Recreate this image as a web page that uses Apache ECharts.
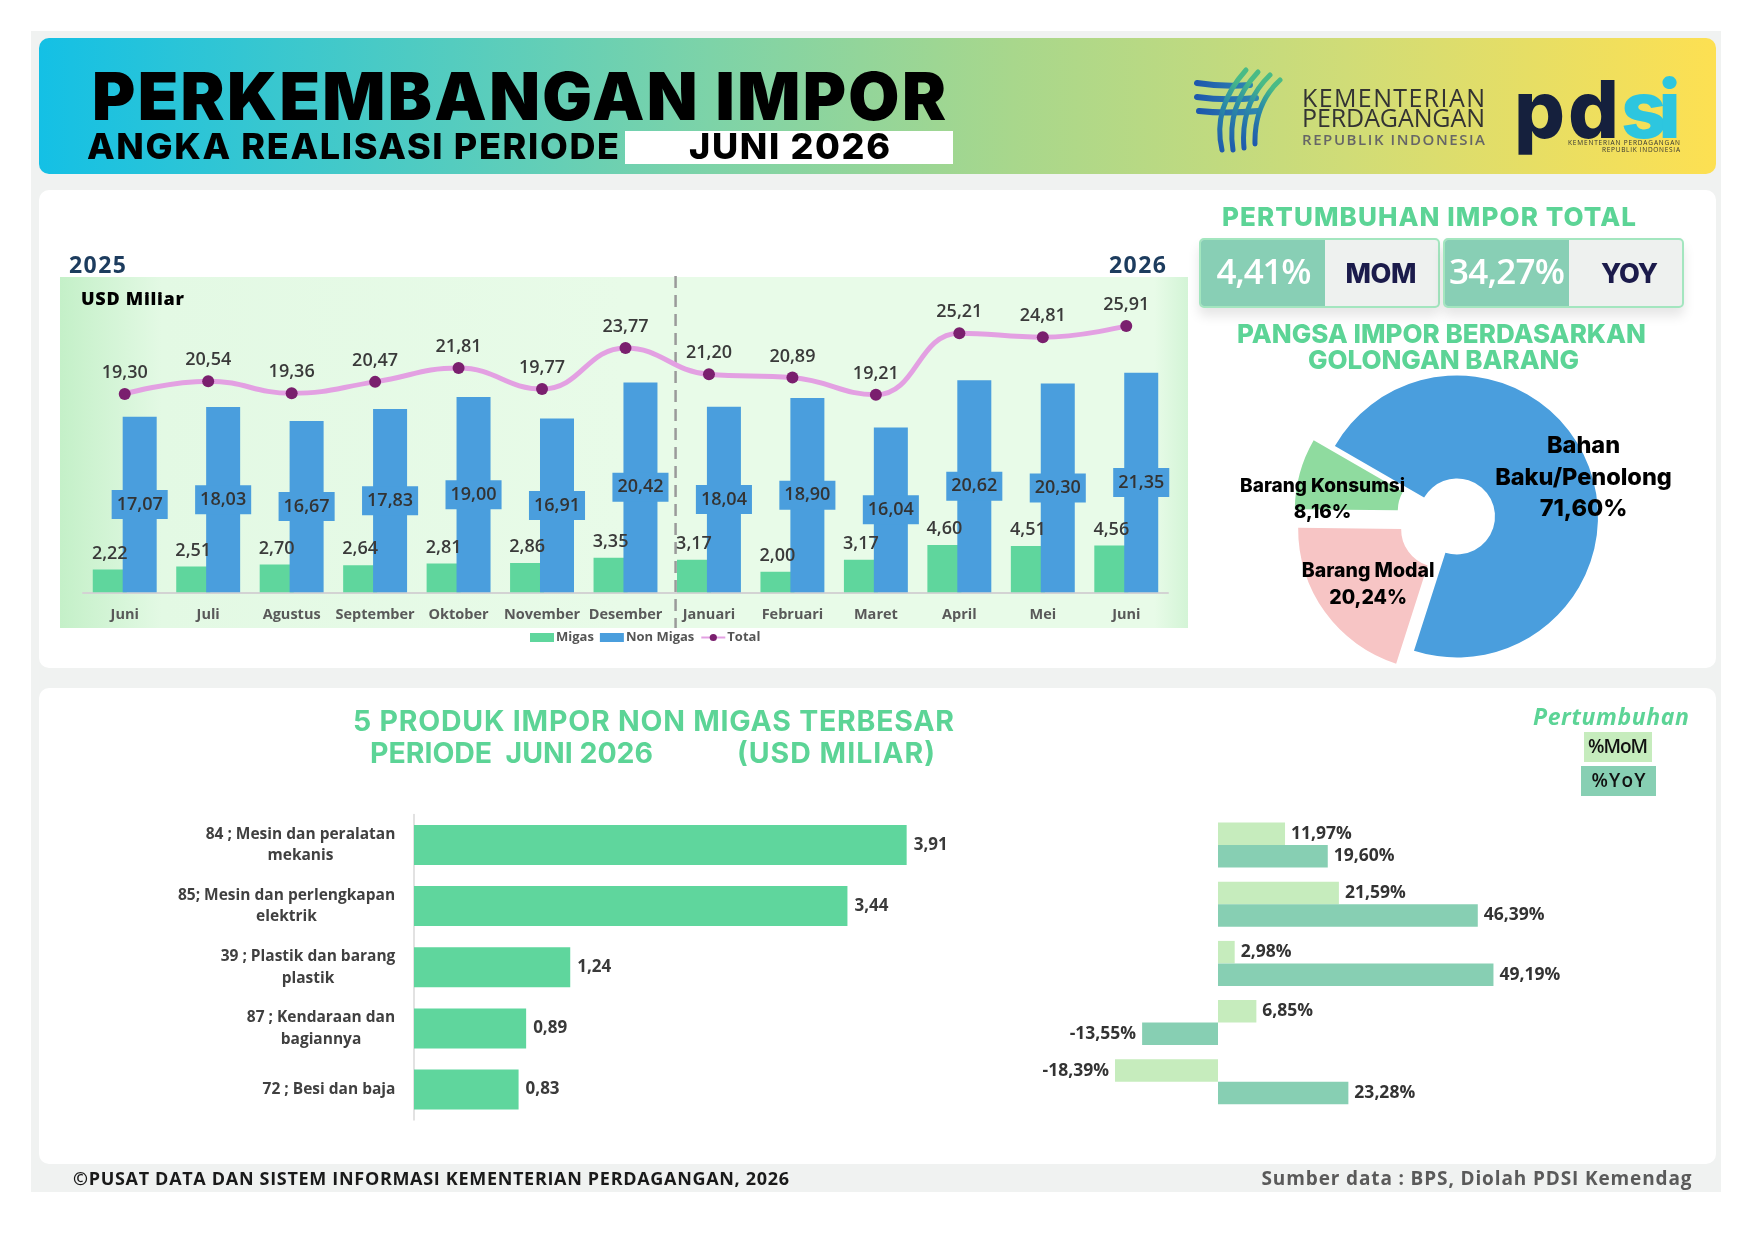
<!DOCTYPE html>
<html><head><meta charset="utf-8">
<script src="https://cdn.jsdelivr.net/npm/echarts@6/dist/echarts.min.js"></script>
<style>
html,body{margin:0;padding:0;background:#fff;}
#page{position:relative;width:1755px;height:1240px;overflow:hidden;background:#fff;}
.abs{position:absolute;}
#chart{position:absolute;left:0;top:0;width:1755px;height:1240px;}
#ov{position:absolute;left:0;top:0;width:1755px;height:1240px;pointer-events:none;}
svg text{white-space:pre;}
</style></head><body>
<div id="page">
 <div class="abs" style="left:31px;top:31px;width:1690px;height:1161px;background:#f0f2f1;"></div>
 <div class="abs" style="left:39px;top:38px;width:1677px;height:136px;border-radius:10px;background:linear-gradient(90deg,#14c0e5 0%,#48cac6 20%,#7dd3a8 40%,#a8d78c 58%,#d0dc77 78%,#fde052 100%);"></div>
 <div class="abs" style="left:625px;top:131px;width:328px;height:33px;background:#fff;"></div>
 <div class="abs" style="left:39px;top:190px;width:1677px;height:478px;border-radius:10px;background:#fff;"></div>
 <div class="abs" style="left:39px;top:688px;width:1677px;height:476px;border-radius:10px;background:#fff;"></div>
 <div class="abs" style="left:60px;top:277px;width:1128px;height:351px;background:linear-gradient(90deg,#c4f0c8 0%,#e3f9e4 9%,#e8fbe8 50%,#e8fbe8 97%,#d3f4d6 100%);"></div>
 <div class="abs" style="left:1199px;top:238px;width:237px;height:66px;border:2px solid #a3e6bf;border-radius:5px;overflow:hidden;background:#eef1ef;box-shadow:0 8px 12px rgba(0,0,0,0.10);"><div style="width:124px;height:100%;background:#88cfb5;"></div></div>
 <div class="abs" style="left:1443px;top:238px;width:237px;height:66px;border:2px solid #a3e6bf;border-radius:5px;overflow:hidden;background:#eef1ef;box-shadow:0 8px 12px rgba(0,0,0,0.10);"><div style="width:124px;height:100%;background:#88cfb5;"></div></div>
 <div class="abs" style="left:1584px;top:732px;width:68px;height:30px;background:#c6ecbd;"></div>
 <div class="abs" style="left:1581px;top:766px;width:75px;height:30px;background:#87cfb3;"></div>
 <div id="chart"></div>
 <svg id="ov" xmlns="http://www.w3.org/2000/svg" width="1755" height="1240">
  <defs>
   <linearGradient id="lg1" x1="0" y1="1" x2="0.4" y2="0"><stop offset="0" stop-color="#1f5aad"/><stop offset="0.6" stop-color="#2c8fa6"/><stop offset="1" stop-color="#49bb86"/></linearGradient>
   <linearGradient id="lg2" x1="0" y1="0" x2="1" y2="0"><stop offset="0" stop-color="#1d58ad"/><stop offset="1" stop-color="#2f86b0"/></linearGradient>
  </defs>
  <g fill="none" stroke-linecap="round">
   <path d="M1197,83 Q1222,87 1250,85" stroke="url(#lg2)" stroke-width="6"/>
   <path d="M1197,97 Q1225,101 1256,98" stroke="url(#lg2)" stroke-width="6"/>
   <path d="M1199,111 Q1226,114 1258,111" stroke="url(#lg2)" stroke-width="6"/>
   <path d="M1222,150 Q1212,108 1246,70" stroke="url(#lg1)" stroke-width="5"/>
   <path d="M1233,150 Q1226,106 1258,72" stroke="url(#lg1)" stroke-width="5"/>
   <path d="M1244,148 Q1240,104 1270,75" stroke="url(#lg1)" stroke-width="5"/>
   <path d="M1255,144 Q1254,104 1280,80" stroke="url(#lg1)" stroke-width="5"/>
  </g>
  <g id="txt"></g>
 </svg>
</div>
<script>
// ---------- DATA ----------
const months = ['Juni','Juli','Agustus','September','Oktober','November','Desember','Januari','Februari','Maret','April','Mei','Juni'];
const migas = [2.22,2.51,2.70,2.64,2.81,2.86,3.35,3.17,2.00,3.17,4.60,4.51,4.56];
const nonMigas = [17.07,18.03,16.67,17.83,19.00,16.91,20.42,18.04,18.90,16.04,20.62,20.30,21.35];
const total = [19.30,20.54,19.36,20.47,21.81,19.77,23.77,21.20,20.89,19.21,25.21,24.81,25.91];
const seriesNames = ['Migas','Non Migas','Total'];
const shareNames = ['Bahan\nBaku/Penolong','Barang Modal','Barang Konsumsi'];
const shareValues = [71.60,20.24,8.16];
const products = ['84 ; Mesin dan peralatan\nmekanis','85; Mesin dan perlengkapan\nelektrik','39 ; Plastik dan barang\nplastik','87 ; Kendaraan dan\nbagiannya','72 ; Besi dan baja'];
const productValues = [3.91,3.44,1.24,0.89,0.83];
const momValues = [11.97,21.59,2.98,6.85,-18.39];
const yoyValues = [19.60,46.39,49.19,-13.55,23.28];
const growthMoM = 4.41;
const growthYoY = 34.27;

// ---------- HELPERS ----------
const fmt = v => v.toFixed(2).replace('.', ',');
const OS = "'Open Sans', sans-serif";
const IN = "Inter, 'Open Sans', sans-serif";
const NS = 'http://www.w3.org/2000/svg';
function T(s, x, y, len, o) {
  const t = document.createElementNS(NS, 'text');
  t.setAttribute('x', x); t.setAttribute('y', y);
  t.setAttribute('font-family', o.f || OS);
  t.setAttribute('font-size', o.s);
  t.setAttribute('font-weight', o.w || 700);
  if (o.i) t.setAttribute('font-style', 'italic');
  t.setAttribute('fill', o.c || '#000');
  t.setAttribute('text-anchor', o.a || 'start');
  if (len) { t.setAttribute('textLength', len); t.setAttribute('lengthAdjust', 'spacing'); }
  t.textContent = s;
  document.getElementById('txt').appendChild(t);
}

function init() {
  const G = '#5cd496';
  T('PERKEMBANGAN IMPOR', 92, 120, 854, {f: IN, s: 66, w: 900});
  T('ANGKA REALISASI PERIODE', 87, 159, 532, {f: IN, s: 36, w: 800});
  T('JUNI 2026', 689, 159, 201, {f: IN, s: 36, w: 800});
  T('KEMENTERIAN', 1302, 107, 183, {s: 25, w: 400, c: '#333'});
  T('PERDAGANGAN', 1302, 127, 183, {s: 25, w: 400, c: '#333'});
  T('REPUBLIK INDONESIA', 1302, 145, 183, {s: 15, w: 600, c: '#666'});
  T('pd', 1514, 138, 105, {f: IN, s: 80, w: 800, c: '#15203d'});
  T('si', 1621, 138, 60, {f: IN, s: 80, w: 800, c: '#2dc6df'});
  T('KEMENTERIAN PERDAGANGAN', 1680, 145, 112, {s: 6.5, w: 400, c: '#333', a: 'end'});
  T('REPUBLIK INDONESIA', 1680, 152, 78, {s: 6.5, w: 400, c: '#333', a: 'end'});
  T('2025', 69, 273, 57, {s: 23, w: 700, c: '#1d3c5e'});
  T('2026', 1109, 273, 57, {s: 23, w: 700, c: '#1d3c5e'});
  T('USD Miliar', 81, 305, 103, {s: 18, w: 800, c: '#000'});
  T('PERTUMBUHAN IMPOR TOTAL', 1222, 225.5, 414, {f: IN, s: 26, w: 800, c: G});
  T(fmt(growthMoM) + '%', 1264, 284, 95, {s: 35, w: 600, c: '#fff', a: 'middle'});
  T('MOM', 1381, 283, 71, {f: IN, s: 27, w: 800, c: '#1b1b4b', a: 'middle'});
  T(fmt(growthYoY) + '%', 1507, 284, 116, {s: 35, w: 600, c: '#fff', a: 'middle'});
  T('YOY', 1629.5, 283, 57, {f: IN, s: 27, w: 800, c: '#1b1b4b', a: 'middle'});
  T('PANGSA IMPOR BERDASARKAN', 1237, 343, 409, {f: IN, s: 26, w: 800, c: G});
  T('GOLONGAN BARANG', 1308, 369, 271, {f: IN, s: 26, w: 800, c: G});
  T('5 PRODUK IMPOR NON MIGAS TERBESAR', 353, 731, 601, {f: IN, s: 28.5, w: 700, c: G});
  T('PERIODE  JUNI 2026', 370, 763, 283, {f: IN, s: 28.5, w: 700, c: G});
  T('(USD MILIAR)', 737, 763, 198, {f: IN, s: 28.5, w: 700, c: G});
  T('Pertumbuhan', 1533, 725, 156, {s: 23, w: 700, i: true, c: G});
  T('%MoM', 1618, 752.5, 60, {s: 19, w: 600, c: '#111', a: 'middle'});
  T('%YoY', 1618.5, 787, 54, {s: 19, w: 600, c: '#111', a: 'middle'});
  T('\u00A9PUSAT DATA DAN SISTEM INFORMASI KEMENTERIAN PERDAGANGAN, 2026', 73, 1185, 716, {s: 18, w: 700, c: '#1a1a1a'});
  T('Sumber data : BPS, Diolah PDSI Kemendag', 1261.5, 1185, 430, {s: 19, w: 700, c: '#5a5a5a'});

  // product label widths (for centred multi-line labels)
  const cv = document.createElement('canvas').getContext('2d');
  const pFont = 15.5, pFam = "'Open Sans'";
  cv.font = '700 ' + pFont + 'px ' + pFam;
  const rich = {};
  products.forEach((p, i) => {
    const w = Math.max(...p.split('\n').map(l => cv.measureText(l).width));
    rich['c' + i] = {width: Math.ceil(w) + 1, align: 'center', fontSize: pFont, fontWeight: 700, fontFamily: OS, color: '#404040', lineHeight: 21.7};
  });

  const shareColors = ['#4a9edd', '#f7c5c5', '#8fdb9f'];
  const shareSel = [false, true, true];
  const shareFont = [[23.5, 31.5], [19.5, 27], [19, 26]];
  const shareLabelOffset = [[0, 0], [4, 1], [-24, 13]];
  const mainLabelPos = [1583.5, 477.5];

  const chart = echarts.init(document.getElementById('chart'), null, {renderer: 'canvas'});
  const option = {
    animation: false,
    grid: [
      {left: 83, top: 283.9, width: 1085, height: 308.4},
      {left: 414, top: 814.4, width: 504, height: 305.7},
      {left: 1078, top: 815.4, width: 448, height: 296}
    ],
    xAxis: [
      {gridIndex: 0, type: 'category', data: months, axisLine: {lineStyle: {color: '#d3d3d3', width: 2}}, axisTick: {show: false},
       axisLabel: {margin: 15, color: '#595959', fontSize: 14.5, fontWeight: 700, fontFamily: OS, interval: 0}},
      {gridIndex: 1, type: 'value', min: 0, max: 4, show: false},
      {gridIndex: 2, type: 'value', min: -25, max: 55, show: false}
    ],
    yAxis: [
      {gridIndex: 0, type: 'value', min: 0, max: 30, show: false},
      {gridIndex: 1, type: 'category', inverse: true, data: products, axisLine: {lineStyle: {color: '#d9d9d9', width: 1.5}}, axisTick: {show: false},
       axisLabel: {margin: 18, align: 'right', formatter: (v, i) => v.split('\n').map(l => '{c' + i + '|' + l + '}').join('\n'), rich: rich}},
      {gridIndex: 2, type: 'category', inverse: true, data: products, show: false}
    ],
    legend: {
      left: 526, top: 629, itemWidth: 24, itemHeight: 9, itemGap: 6, padding: [2, 4], backgroundColor: '#fff',
      textStyle: {fontSize: 13, fontWeight: 700, color: '#555', fontFamily: OS, padding: [0, 0, 0, -3]},
      data: [{name: seriesNames[0], icon: 'rect'}, {name: seriesNames[1], icon: 'rect'}, {name: seriesNames[2]}]
    },
    series: [
      {name: seriesNames[0], type: 'bar', xAxisIndex: 0, yAxisIndex: 0, data: migas, barWidth: 34, barGap: '-12%',
       itemStyle: {color: '#5fd69d'},
       label: {show: true, position: 'top', distance: 7, formatter: p => fmt(p.value), fontSize: 18, fontWeight: 600, color: '#3a3a3a', fontFamily: OS}},
      {name: seriesNames[1], type: 'bar', xAxisIndex: 0, yAxisIndex: 0, data: nonMigas, barWidth: 34, barGap: '-12%',
       itemStyle: {color: '#4a9edd'},
       label: {show: true, position: 'inside', formatter: p => fmt(p.value), fontSize: 18, fontWeight: 600, color: '#333', fontFamily: OS,
               backgroundColor: '#4a9edd', padding: [6, 5, 5, 5]}},
      {name: seriesNames[2], type: 'line', xAxisIndex: 0, yAxisIndex: 0, data: total, smooth: 0.45, z: 5,
       lineStyle: {color: '#e3a0e2', width: 5}, itemStyle: {color: '#7a1f6e'}, symbol: 'circle', symbolSize: 12,
       label: {show: true, position: 'top', distance: 6, formatter: p => fmt(p.value), fontSize: 18, fontWeight: 600, color: '#3a3a3a', fontFamily: OS}},
      {type: 'pie', center: [1457, 516.5], radius: [38, 141], startAngle: 150, clockwise: true,
       selectedMode: 'multiple', selectedOffset: 22, emphasis: {disabled: true}, select: {itemStyle: {borderWidth: 0}},
       labelLine: {show: false},
       label: {show: true, position: 'inside', color: '#000', fontFamily: IN, fontWeight: 800, align: 'center', verticalAlign: 'middle',
               formatter: p => p.name + '\n' + fmt(p.value) + '%'},
       labelLayout: p => (shareSel[p.dataIndex] ? {} : {x: mainLabelPos[0], y: mainLabelPos[1], align: 'center', verticalAlign: 'middle'}),
       data: shareValues.map((v, i) => ({name: shareNames[i], value: v, selected: shareSel[i],
             itemStyle: {color: shareColors[i]},
             label: {fontSize: shareFont[i][0], lineHeight: shareFont[i][1], offset: shareLabelOffset[i]},
             select: {label: {offset: shareLabelOffset[i]}}}))},
      {type: 'bar', xAxisIndex: 1, yAxisIndex: 1, data: productValues, barWidth: 40, itemStyle: {color: '#5fd69d'},
       label: {show: true, position: 'right', distance: 7, formatter: p => fmt(p.value), fontSize: 17, fontWeight: 700, color: '#3a3a3a', fontFamily: OS}},
      {name: '%MoM', type: 'bar', xAxisIndex: 2, yAxisIndex: 2, barWidth: 22.5, barGap: '0%', itemStyle: {color: '#c6ecbd'},
       data: momValues.map(v => ({value: v, label: {position: v < 0 ? 'left' : 'right'}})),
       label: {show: true, distance: 6, formatter: p => fmt(p.value) + '%', fontSize: 17.5, fontWeight: 700, color: '#333', fontFamily: OS}},
      {name: '%YoY', type: 'bar', xAxisIndex: 2, yAxisIndex: 2, barWidth: 22.5, barGap: '0%', itemStyle: {color: '#87cfb3'},
       data: yoyValues.map(v => ({value: v, label: {position: v < 0 ? 'left' : 'right'}})),
       label: {show: true, distance: 6, formatter: p => fmt(p.value) + '%', fontSize: 17.5, fontWeight: 700, color: '#333', fontFamily: OS}}
    ]
  };
  chart.setOption(option);
  // dashed divider between 2025 and 2026
  const x6 = chart.convertToPixel({xAxisIndex: 0}, 6);
  const x7 = chart.convertToPixel({xAxisIndex: 0}, 7);
  const xd = x6 + (x7 - x6) * 0.6;
  chart.setOption({graphic: [{type: 'line', shape: {x1: xd, y1: 276, x2: xd, y2: 628}, style: {stroke: '#9a9a9a', lineWidth: 2.5, lineDash: [12, 7]}, z: 1}]});
}
const fl = ['900 66px Inter', '800 36px Inter', '700 18px "Open Sans"', '600 18px "Open Sans"', '400 25px "Open Sans"', '800 18px "Open Sans"', 'italic 700 21px "Open Sans"'];
Promise.all(fl.map(f => document.fonts.load(f))).then(init, init);
</script>
</body></html>
